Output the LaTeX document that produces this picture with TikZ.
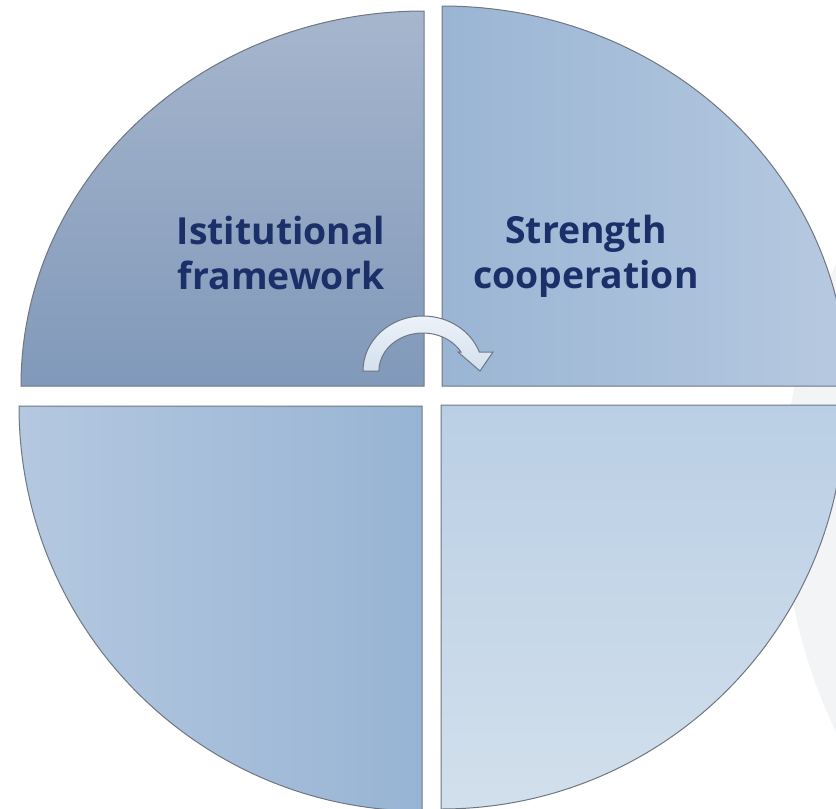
\documentclass[tikz,border=0pt]{standalone}
\usepackage{fontspec}
\setmainfont{Open Sans}
\definecolor{navytext}{RGB}{27,47,104}
\definecolor{rimgray}{RGB}{110,118,130}
\definecolor{ghost}{RGB}{243,244,246}
\tikzset{every picture/.style={line width=0.75pt}}
\tikzset{quadtext/.style={align=center,text=navytext,font=\fontsize{28}{34}\selectfont\bfseries,inner sep=0pt}}

\begin{document}
\begin{tikzpicture}[x=0.75pt,y=0.75pt,yscale=-1,xscale=1]
\useasboundingbox (0,0) rectangle (836,808);
\clip (0,0) rectangle (836,808);

%Shape: Circle [id:ghost] 
\fill [ghost] (1325,498) ellipse [x radius=542, y radius=542];

%Shape: Quarter [id:topleft] 
\draw [rimgray, top color={rgb,255:red,166;green,182;blue,205}, bottom color={rgb,255:red,129;green,153;blue,186}] (424,386) -- (21,386) arc [start angle=180, end angle=270, x radius=403, y radius=375] -- cycle ;
%Shape: Quarter [id:topright] 
\draw [rimgray, left color={rgb,255:red,154;green,181;blue,212}, right color={rgb,255:red,182;green,201;blue,224}] (442,386) -- (442,6) arc [start angle=270, end angle=360, x radius=405, y radius=380] -- cycle ;
%Shape: Quarter [id:bottomleft] 
\draw [rimgray, left color={rgb,255:red,180;green,200;blue,224}, right color={rgb,255:red,152;green,180;blue,212}] (422,406) -- (19,406) arc [start angle=180, end angle=90, x radius=403, y radius=405] -- cycle ;
%Shape: Quarter [id:bottomright] 
\draw [rimgray, top color={rgb,255:red,186;green,207;blue,229}, bottom color={rgb,255:red,210;green,223;blue,236}] (441,405) -- (845,405) arc [start angle=0, end angle=90, radius=404] -- cycle ;

%Curve Lines [id:turn] 
\draw [rimgray, top color={rgb,255:red,236;green,242;blue,249}, bottom color={rgb,255:red,212;green,224;blue,238}] (363,371) arc [start angle=180, end angle=340, x radius=60, y radius=55] -- (493,352) -- (480,371) -- (458,352) -- (461,352) arc [start angle=330, end angle=180, x radius=44, y radius=38] -- cycle ;

% Text Node
\node [quadtext] (inst) at (281,253) {Istitutional\\framework};
% Text Node
\node [quadtext] (coop) at (586,256) {Strength\\cooperation};

\end{tikzpicture}
\end{document}
